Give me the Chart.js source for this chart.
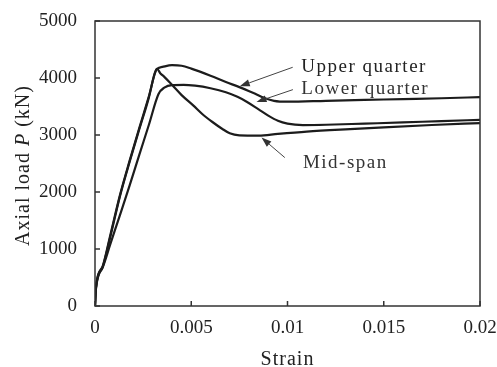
<!doctype html>
<html lang="en">
<head>
  <meta charset="utf-8">
  <title>Axial load - strain</title>
  <style>
    * { margin: 0; padding: 0; }
    body { background: #fff; }
    .chartBox { width: 497px; height: 367px; }
  </style>
</head>
<body>
  <div class="chartBox">
    <canvas id="myChart"></canvas>
  </div>
  <script src="https://cdn.jsdelivr.net/npm/chart.js"></script>
  <script>
    // data: strain vs axial load (kN) for the three gauge positions
    const upperStrain = [0, 0.00005, 0.0004, 0.0008, 0.0013, 0.0018, 0.0023, 0.0028, 0.0032, 0.0035, 0.004, 0.0045, 0.005, 0.006, 0.0068, 0.0075, 0.0082, 0.0088, 0.0093, 0.01, 0.012, 0.014, 0.016, 0.018, 0.02];
    const upperLoad = [0, 330, 700, 1250, 1950, 2550, 3120, 3680, 4150, 4195, 4225, 4215, 4165, 4040, 3930, 3840, 3740, 3650, 3600, 3585, 3600, 3615, 3630, 3645, 3665];

    const lowerStrain = [0, 0.00005, 0.0004, 0.0008, 0.0013, 0.0018, 0.0023, 0.0028, 0.0033, 0.0036, 0.004, 0.0046, 0.0052, 0.006, 0.0068, 0.0074, 0.0079, 0.0085, 0.009, 0.0095, 0.01, 0.0108, 0.012, 0.014, 0.016, 0.018, 0.02];
    const lowerLoad = [0, 320, 680, 1090, 1600, 2115, 2650, 3180, 3720, 3830, 3875, 3880, 3865, 3820, 3750, 3670, 3580, 3450, 3340, 3250, 3200, 3175, 3180, 3200, 3220, 3245, 3265];

    const midStrain = [0, 0.00005, 0.0004, 0.0008, 0.0013, 0.0018, 0.0023, 0.0028, 0.0031, 0.00322, 0.0034, 0.0036, 0.004, 0.0045, 0.0051, 0.0056, 0.0061, 0.0066, 0.007, 0.0075, 0.0085, 0.0095, 0.011, 0.013, 0.015, 0.0175, 0.02];
    const midLoad = [0, 300, 680, 1220, 1930, 2530, 3100, 3660, 4080, 4160, 4080, 4020, 3880, 3700, 3520, 3360, 3228, 3110, 3030, 2995, 2990, 3020, 3060, 3100, 3135, 3175, 3210];

    const xTickLabels = ['0', '0.005', '0.01', '0.015', '0.02'];
    const yTickLabels = ['0', '1000', '2000', '3000', '4000', '5000'];

    // callouts: [label, text x, text y, arrow tail x, tail y, arrow tip x, tip y] in data units
    const callouts = [
      ['Upper quarter', 0.01072, 4105, 0.01027, 4188, 0.00752, 3855],
      ['Lower quarter', 0.01072, 3715, 0.01028, 3796, 0.00839, 3579],
      ['Mid-span', 0.01080, 2428, 0.00986, 2604, 0.00865, 2954]
    ];

    const zip = (xs, ys) => xs.map((x, i) => ({ x: x, y: ys[i] }));

    const serif = '"Liberation Serif", "Times New Roman", serif';
    const ink = '#222';

    const lineStyle = {
      borderColor: '#1c1c1c',
      borderWidth: 2.2,
      pointRadius: 0,
      cubicInterpolationMode: 'monotone',
      fill: false
    };

    const data = {
      datasets: [
        Object.assign({ label: 'Upper quarter', data: zip(upperStrain, upperLoad) }, lineStyle),
        Object.assign({ label: 'Lower quarter', data: zip(lowerStrain, lowerLoad) }, lineStyle),
        Object.assign({ label: 'Mid-span', data: zip(midStrain, midLoad) }, lineStyle)
      ]
    };

    // box frame with inward tick marks
    const framePlugin = {
      id: 'frame',
      afterDatasetsDraw(chart) {
        const { ctx, chartArea: { top, right, bottom, left }, scales: { x, y } } = chart;
        ctx.save();
        ctx.strokeStyle = '#333';
        ctx.lineWidth = 1.5;
        ctx.strokeRect(left, top, right - left, bottom - top);
        ctx.beginPath();
        x.ticks.forEach(t => {
          const px = x.getPixelForValue(t.value);
          ctx.moveTo(px, bottom);
          ctx.lineTo(px, bottom - 5);
        });
        y.ticks.forEach(t => {
          const py = y.getPixelForValue(t.value);
          ctx.moveTo(left, py);
          ctx.lineTo(left + 5, py);
        });
        ctx.stroke();
        ctx.restore();
      }
    };

    // axis titles (with italic P) and the arrow callouts
    const labelPlugin = {
      id: 'labels',
      afterDraw(chart) {
        const { ctx, chartArea: { top, right, bottom, left }, scales: { x, y } } = chart;
        ctx.save();
        ctx.fillStyle = ink;
        ctx.letterSpacing = '1px';

        // x title
        ctx.font = '20px ' + serif;
        ctx.textAlign = 'center';
        ctx.textBaseline = 'alphabetic';
        ctx.fillText('Strain', (left + right) / 2, bottom + 59);

        // y title, rotated
        const parts = [['Axial load ', '20px ' + serif], ['P', 'italic 20px ' + serif], [' (kN)', '20px ' + serif]];
        let total = 0;
        parts.forEach(p => { ctx.font = p[1]; total += ctx.measureText(p[0]).width; });
        ctx.translate(29, (top + bottom) / 2 + 2);
        ctx.rotate(-Math.PI / 2);
        ctx.textAlign = 'left';
        let cx = -total / 2;
        parts.forEach(p => {
          ctx.font = p[1];
          ctx.fillText(p[0], cx, 0);
          cx += ctx.measureText(p[0]).width;
        });
        ctx.restore();

        // callouts
        ctx.save();
        ctx.font = '19px ' + serif;
        ctx.letterSpacing = '1.5px';
        ctx.textAlign = 'left';
        ctx.textBaseline = 'alphabetic';
        ctx.fillStyle = ink;
        ctx.strokeStyle = '#444';
        ctx.lineWidth = 1;
        callouts.forEach(c => {
          ctx.fillText(c[0], x.getPixelForValue(c[1]), y.getPixelForValue(c[2]));
          const x0 = x.getPixelForValue(c[3]), y0 = y.getPixelForValue(c[4]);
          const x1 = x.getPixelForValue(c[5]), y1 = y.getPixelForValue(c[6]);
          const a = Math.atan2(y1 - y0, x1 - x0);
          const hl = 10, hw = 3.5;
          const bx = x1 - hl * Math.cos(a), by = y1 - hl * Math.sin(a);
          ctx.beginPath();
          ctx.moveTo(x0, y0);
          ctx.lineTo(bx, by);
          ctx.stroke();
          ctx.beginPath();
          ctx.moveTo(x1, y1);
          ctx.lineTo(bx + hw * Math.sin(a), by - hw * Math.cos(a));
          ctx.lineTo(bx - hw * Math.sin(a), by + hw * Math.cos(a));
          ctx.closePath();
          ctx.fillStyle = '#333';
          ctx.fill();
        });
        ctx.restore();
      }
    };

    const config = {
      type: 'line',
      data,
      options: {
        responsive: true,
        maintainAspectRatio: false,
        animation: false,
        layout: { padding: { top: 21, right: 17, left: 0, bottom: 0 } },
        plugins: {
          legend: { display: false },
          tooltip: { enabled: false }
        },
        scales: {
          x: {
            type: 'linear',
            min: 0,
            max: 0.02,
            grid: { display: false, drawTicks: false },
            border: { display: false },
            ticks: {
              stepSize: 0.005,
              padding: 11,
              maxRotation: 0,
              color: ink,
              font: { family: serif, size: 19 },
              callback: (value, index) => xTickLabels[index]
            },
            afterFit(scale) {
              scale.height = 61;
              scale.paddingLeft = 0;
              scale.paddingRight = 0;
            }
          },
          y: {
            type: 'linear',
            min: 0,
            max: 5000,
            grid: { display: false, drawTicks: false },
            border: { display: false },
            ticks: {
              stepSize: 1000,
              padding: 18,
              color: ink,
              font: { family: serif, size: 19 },
              callback: (value, index) => yTickLabels[index]
            },
            afterFit(scale) {
              scale.width = 95;
              scale.paddingTop = 0;
              scale.paddingBottom = 0;
            }
          }
        }
      },
      plugins: [framePlugin, labelPlugin]
    };

    const myChart = new Chart(document.getElementById('myChart'), config);
  </script>
</body>
</html>
